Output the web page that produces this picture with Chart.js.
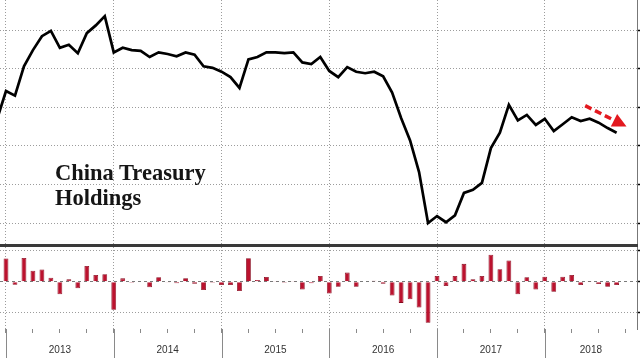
<!DOCTYPE html>
<html>
<head>
<meta charset="utf-8">
<script src="https://cdn.jsdelivr.net/npm/chart.js@4/dist/chart.umd.min.js"></script>
<style>
html,body{margin:0;padding:0;background:#fff;}
#wrap{position:relative;width:640px;height:360px;overflow:hidden;background:#fff;}
#top{position:absolute;left:0;top:0;}
#sep{position:absolute;left:0;top:244px;width:638px;height:3px;background:#3a3a3a;}
#bot{position:absolute;left:0;top:247px;}
#title{position:absolute;left:55px;top:160px;font-family:'Liberation Serif',serif;font-weight:bold;font-size:22.5px;line-height:25px;color:#151515;white-space:nowrap;}
</style>
</head>
<body>
<div id="wrap">
  <canvas id="top" width="640" height="244"></canvas>
  <div id="sep"></div>
  <canvas id="bot" width="640" height="113"></canvas>
  <div id="title">China Treasury<br>Holdings</div>
</div>
<script>
// ---- data (US$ bn) ----
const MONTHS = [
 '2012-11','2012-12',
 '2013-01','2013-02','2013-03','2013-04','2013-05','2013-06','2013-07','2013-08','2013-09','2013-10','2013-11','2013-12',
 '2014-01','2014-02','2014-03','2014-04','2014-05','2014-06','2014-07','2014-08','2014-09','2014-10','2014-11','2014-12',
 '2015-01','2015-02','2015-03','2015-04','2015-05','2015-06','2015-07','2015-08','2015-09','2015-10','2015-11','2015-12',
 '2016-01','2016-02','2016-03','2016-04','2016-05','2016-06','2016-07','2016-08','2016-09','2016-10','2016-11','2016-12',
 '2017-01','2017-02','2017-03','2017-04','2017-05','2017-06','2017-07','2017-08','2017-09','2017-10','2017-11','2017-12',
 '2018-01','2018-02','2018-03','2018-04','2018-05','2018-06','2018-07','2018-08'
];
const HOLDINGS = [
 1184,1221,
 1215,1253,1274,1292,1299,1277,1281,1270,1296,1306,1318,1271,
 1277,1274,1273,1265,1271,1269,1266,1271,1268,1253,1251,1246,
 1239,1225,1262,1265,1271,1271,1270,1271,1258,1256,1265,1247,
 1239,1252,1246,1244,1246,1240,1219,1186,1157,1116,1050,1059,
 1051,1060,1089,1093,1102,1147,1167,1203,1183,1190,1177,1185,
 1169,1178,1187,1182,1185,1180,1173,1167
];
// monthly change, Dec 2012 .. Aug 2018
const CHANGES = [
 37,
 -5,38,17.5,19.5,6.4,-20,3.7,-10.6,25,10.6,12,-45,
 5.3,-1.6,-0.8,-9,7,-1.5,-2.5,5.4,-3.2,-13.4,-1.6,-5.4,
 -5.4,-15,37.6,2.7,7.5,1,-1.6,1,-12.4,-2.7,9,-18.8,
 -8,14.5,-8,-1,1.6,-3.2,-22,-33.9,-28,-41.4,-65.6,9,
 -7,9,28.5,3.8,9,43,20,34,-20,7,-12.4,8,
 -16,8,10.8,-5.4,1,-3.8,-8,-5.4
];
const YEARS = ['2013','2014','2015','2016','2017','2018'];
const LEVEL_TICKS = [1050,1100,1150,1200,1250,1300];
const CHANGE_TICKS = [-50,0,50];

// ---- layout helpers ----
const XMIN = -0.668, XMAX = 70.27;
const TOP_MIN = 1022.8, TOP_MAX = 1338.9;
const BOT_MIN = -75.6, BOT_MAX = 55.4;
const ARROW = {from:[64.5,1202], to:[69.1,1175]};

const xIdx = m => { const [y, mo] = m.split('-').map(Number); return (y-2012)*12 + mo - 12; };
const linePts = MONTHS.map((m,i)=>({x:xIdx(m), y:HOLDINGS[i]}));
const barPts = MONTHS.slice(1).map((m,i)=>({x:xIdx(m), y:CHANGES[i]}));
const YEAR_STARTS = YEARS.map(y=>xIdx(y+'-12')-12);
const LABEL_POS = YEAR_STARTS.map(s => (s + Math.min(s+12, XMAX))/2);
const GRID = '#9c9c9c';
const NONE = 'rgba(0,0,0,0)';

Chart.defaults.animation = false;
Chart.defaults.font.family = "'Liberation Sans', Arial, sans-serif";

const arrowPlugin = {
  id:'arrow',
  afterDatasetsDraw(chart){
    const {ctx, scales:{x,y}} = chart;
    const x1 = x.getPixelForValue(ARROW.from[0]), y1 = y.getPixelForValue(ARROW.from[1]);
    const x2 = x.getPixelForValue(ARROW.to[0]), y2 = y.getPixelForValue(ARROW.to[1]);
    const ang = Math.atan2(y2-y1, x2-x1), head = 14, hw = 7;
    const bx = x2 - head*Math.cos(ang), by = y2 - head*Math.sin(ang);
    ctx.save();
    ctx.strokeStyle = '#e3191f'; ctx.fillStyle = '#e3191f';
    ctx.lineWidth = 3.5; ctx.setLineDash([7,4]); ctx.lineCap='butt';
    ctx.beginPath(); ctx.moveTo(x1,y1); ctx.lineTo(bx,by); ctx.stroke();
    ctx.setLineDash([]);
    ctx.beginPath();
    ctx.moveTo(x2,y2);
    ctx.lineTo(bx + hw*Math.sin(ang), by - hw*Math.cos(ang));
    ctx.lineTo(bx - hw*Math.sin(ang), by + hw*Math.cos(ang));
    ctx.closePath(); ctx.fill();
    ctx.restore();
  }
};

new Chart(document.getElementById('top'), {
  type:'line',
  data:{datasets:[{data:linePts, borderColor:'#000', borderWidth:2.7, pointRadius:0, tension:0, fill:false, borderJoinStyle:'miter'}]},
  options:{
    responsive:false, animation:false,
    layout:{padding:0},
    plugins:{legend:{display:false}, tooltip:{enabled:false}, title:{display:false}},
    scales:{
      x:{type:'linear', min:XMIN, max:XMAX,
        afterBuildTicks:s=>{s.ticks = YEAR_STARTS.map(v=>({value:v}));},
        ticks:{display:false},
        grid:{color:GRID, lineWidth:1, drawTicks:false},
        border:{display:false, width:0, color:NONE, dash:[1,2]}},
      y:{position:'right', min:TOP_MIN, max:TOP_MAX,
        afterBuildTicks:s=>{s.ticks = LEVEL_TICKS.map(v=>({value:v}));},
        ticks:{display:false},
        grid:{color:GRID, lineWidth:1, drawTicks:true, tickLength:3, tickColor:'#000', tickWidth:1.5},
        border:{display:true, color:'#777', width:1, dash:[1,2]}}
    }
  },
  plugins:[arrowPlugin]
});

const yearLinePlugin = {
  id:'yearLines',
  afterDraw(chart){
    const {ctx, chartArea, scales:{x}} = chart;
    ctx.save(); ctx.strokeStyle = '#8a8a8a'; ctx.lineWidth = 1;
    YEAR_STARTS.forEach(v=>{
      const px = Math.round(x.getPixelForValue(v)) + 0.5;
      ctx.beginPath(); ctx.moveTo(px, chartArea.bottom); ctx.lineTo(px, chartArea.bottom + 29); ctx.stroke();
    });
    ctx.restore();
  }
};

new Chart(document.getElementById('bot'), {
  type:'bar',
  data:{datasets:[{data:barPts, backgroundColor:'#bb122e', borderColor:'#86091d', borderWidth:0.8, barPercentage:0.62, categoryPercentage:1}]},
  options:{
    responsive:false, animation:false,
    layout:{padding:{left:0, right:0, top:0, bottom:4}},
    plugins:{legend:{display:false}, tooltip:{enabled:false}},
    scales:{
      x:{type:'linear', min:XMIN, max:XMAX, offset:false,
        afterBuildTicks:s=>{
          const vals = new Set();
          for (let v=0; v<=XMAX; v+=3) vals.add(v);
          LABEL_POS.forEach(v=>vals.add(v));
          s.ticks = [...vals].sort((a,b)=>a-b).map(v=>({value:v}));
        },
        afterFit:s=>{ s.height = 27; s.paddingLeft = 0; s.paddingRight = 0; },
        ticks:{autoSkip:false, maxRotation:0, minRotation:0, padding:11, color:'#333',
          font:{family:"'Liberation Sans', Arial, sans-serif", size:10},
          callback:(v)=>{ const j = LABEL_POS.findIndex(p=>Math.abs(p-v)<1e-6); return j>=0 ? YEARS[j] : ''; }},
        grid:{offset:false, lineWidth:1, drawTicks:true, tickLength:4,
          color:ctx=> ctx.tick && YEAR_STARTS.includes(ctx.tick.value) ? GRID : NONE,
          tickColor:ctx=> ctx.tick && Number.isInteger(ctx.tick.value) && ctx.tick.value%3===0 ? '#8a8a8a' : NONE},
        border:{display:false, width:0, color:NONE, dash:[1,2]}},
      y:{position:'right', min:BOT_MIN, max:BOT_MAX,
        afterBuildTicks:s=>{s.ticks = CHANGE_TICKS.map(v=>({value:v}));},
        ticks:{display:false},
        grid:{lineWidth:1, drawTicks:true, tickLength:3, tickColor:'#000', tickWidth:1.5,
          color:ctx=> ctx.tick && ctx.tick.value===0 ? '#7a7a7a' : GRID},
        border:{display:true, color:'#777', width:1,
          dash:ctx=> ctx.tick && ctx.tick.value===0 ? [3,3] : [1,2]}}
    }
  },
  plugins:[yearLinePlugin]
});
</script>
</body>
</html>
